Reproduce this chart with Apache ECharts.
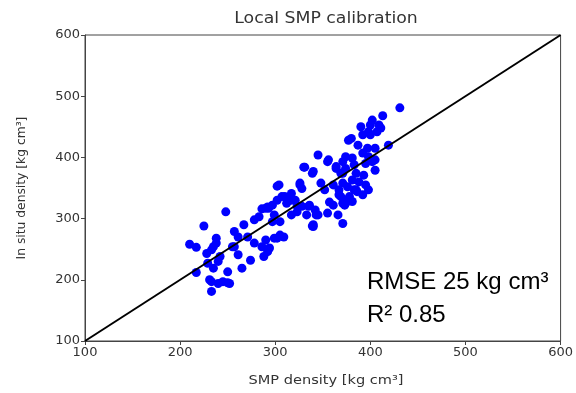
<!DOCTYPE html>
<html>
<head>
<meta charset="utf-8">
<script src="https://cdn.jsdelivr.net/npm/echarts@6/dist/echarts.min.js"></script>
<style>html,body{margin:0;padding:0;background:#fff}#c{width:576px;height:393px}</style>
</head>
<body>
<div id="c"></div>
<script>
var titleText = 'Local SMP calibration';
var xName = 'SMP density [kg cm³]';
var yName = 'In situ density [kg cm³]';
var axisMin = 100, axisMax = 600, axisStep = 100;
var refLine = [[100, 100], [600, 600]];
var annotLine1 = 'RMSE 25 kg cm³';
var annotLine2 = 'R² 0.85';

var lowPoints = [
  [210,258],[217,253],[225,288],[248,311],[217,212],[233,197],[240,194],[250,195],[233,181],[250,213],
  [265,219],[274,232],[235,254],[238,268],[242,238],[229,227],[255,254],[261,270],[267,290],[278,260],
  [283,303],[290,317],[231,200],[245,197],[252,194],[238,260],[233,249],[228,243],[257,279],[271,270],
  [278,298],[286,316],[292,319],[297,322],[235,219],[240,230],[261,241],[257,254],[286,254],[290,265],
  [288,238],[292,246]
];
var midPoints = [
  [302,353],[302,330],[310,336],[305,295],[302,268],[309,270],[317,330],[326,355],[331,384],[323,320],
  [340,290],[335,320],[345,404],[340,377],[355,393],[364,382],[371,374],[304,355],[326,358],[328,349],
  [348,358],[352,347],[361,355],[367,339],[307,336],[317,341],[321,330],[312,325],[293,317],[299,306],
  [297,295],[328,320],[336,322],[342,314],[333,306],[361,322],[371,325],[355,309],[366,306],[317,306],
  [323,311],[343,306],[340,287],[305,273],[299,268],[294,252],[371,292],[345,306],[357,327],[374,325],
  [383,347],[339,288],[356,396],[330,384],[339,374]
];
var highPoints = [
  [390,450],[400,453],[409,453],[407,442],[398,442],[392,437],[400,437],[380,431],[387,420],[419,420],
  [397,415],[405,415],[392,407],[398,401],[374,401],[381,399],[371,393],[383,388],[395,390],[402,393],
  [364,385],[374,382],[369,374],[385,374],[393,371],[405,379],[381,363],[388,360],[395,355],[371,358],
  [376,352],[367,347],[386,344],[392,339],[398,347],[369,336],[378,336],[385,347],[381,328],[376,330],
  [373,322],[431,481],[413,468],[402,461],[411,448],[377,428],[405,396]
];
var allPoints = lowPoints.concat(midPoints, highPoints);

var chart = echarts.init(document.getElementById('c'), null, {renderer: 'canvas'});
var axisCommon = {
  type: 'value', min: axisMin, max: axisMax, interval: axisStep,
  axisLine: {show: true, onZero: false, lineStyle: {color: '#444', width: 1}},
  axisTick: {show: true, inside: false, length: 4, lineStyle: {color: '#444'}},
  axisLabel: {color: '#333', fontSize: 13, fontFamily: 'DejaVu Sans', margin: 5},
  splitLine: {show: false}
};
chart.setOption({
  animation: false,
  backgroundColor: '#fff',
  grid: {left: 85, right: 8, top: 35, bottom: 52, show: true, borderColor: '#444', borderWidth: 1, backgroundColor: 'transparent'},
  xAxis: Object.assign({}, axisCommon),
  yAxis: Object.assign({}, axisCommon),
  series: [
    {
      type: 'scatter', data: allPoints, symbol: 'circle', symbolSize: 9,
      itemStyle: {color: '#0000ff', opacity: 1}, z: 2
    },
    {
      type: 'line', data: refLine, symbol: 'none',
      lineStyle: {color: '#000', width: 2}, z: 3
    }
  ],
  graphic: [
    {type: 'text', x: 326, y: 19, scaleX: 1.08,
     style: {text: titleText, fill: '#333', font: '16px "DejaVu Sans"', align: 'center', verticalAlign: 'middle'}},
    {type: 'text', x: 326, y: 381, scaleX: 1.12,
     style: {text: xName, fill: '#333', font: '13px "DejaVu Sans"', align: 'center', verticalAlign: 'middle'}},
    {type: 'text', x: 22, y: 188, rotation: Math.PI / 2,
     style: {text: yName, fill: '#333', font: '12.3px "DejaVu Sans"', align: 'center', verticalAlign: 'middle'}},
    {type: 'text', left: 367, top: 270, style: {text: annotLine1, fill: '#000', fontSize: 24, fontFamily: 'Liberation Sans'}},
    {type: 'text', left: 367, top: 303, style: {text: annotLine2, fill: '#000', fontSize: 24, fontFamily: 'Liberation Sans'}}
  ]
});
</script>
</body>
</html>
